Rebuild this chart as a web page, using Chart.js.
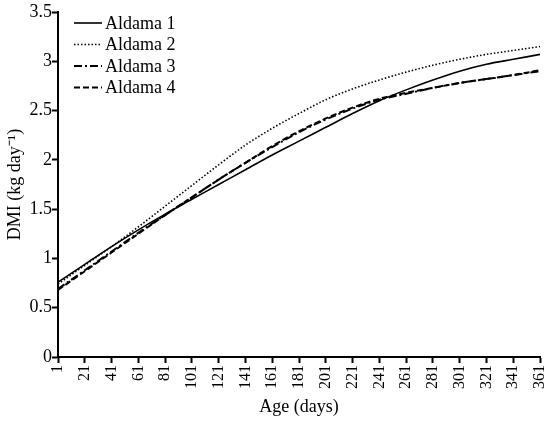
<!DOCTYPE html>
<html>
<head>
<meta charset="utf-8">
<script src="https://cdn.jsdelivr.net/npm/chart.js@4"></script>
<style>
  html, body { margin: 0; padding: 0; background: #fff; }
  #wrap { width: 547px; height: 423px; }
</style>
</head>
<body>
<div id="wrap"><canvas id="dmiChart" width="547" height="423"></canvas></div>
<script>
// age in days (also the x tick labels)
const ageDays = [1, 21, 41, 61, 81, 101, 121, 141, 161, 181, 201, 221, 241, 261, 281, 301, 321, 341, 361];

// DMI (kg/day)
const aldama1 = [0.76, 0.94, 1.12, 1.29, 1.45, 1.60, 1.75, 1.90, 2.05, 2.19, 2.33, 2.47, 2.60, 2.71, 2.81, 2.90, 2.97, 3.02, 3.07];
const aldama2 = [0.74, 0.93, 1.12, 1.32, 1.53, 1.74, 1.95, 2.15, 2.32, 2.47, 2.61, 2.72, 2.81, 2.89, 2.96, 3.02, 3.07, 3.11, 3.15];
const aldama3 = [0.69, 0.88, 1.07, 1.26, 1.44, 1.62, 1.80, 1.97, 2.13, 2.28, 2.41, 2.52, 2.61, 2.67, 2.73, 2.78, 2.82, 2.86, 2.90];
const aldama4 = [0.68, 0.87, 1.06, 1.25, 1.44, 1.62, 1.80, 1.97, 2.14, 2.29, 2.42, 2.53, 2.62, 2.68, 2.73, 2.78, 2.82, 2.86, 2.91];

const yTicks = [0, 0.5, 1, 1.5, 2, 2.5, 3, 3.5];

const serif = "'Liberation Serif', 'Times New Roman', serif";

function toPoints(arr) {
    return arr.map((v, i) => ({ x: ageDays[i], y: v }));
}

function makeSet(label, values, dash, width) {
    return {
        label: label,
        data: toPoints(values),
        borderColor: '#000',
        backgroundColor: '#000',
        borderWidth: width,
        borderDash: dash,
        pointRadius: 0,
        cubicInterpolationMode: 'monotone',
        fill: false
    };
}

// legend drawn inside the plot, top-left, with each line's dash
const innerLegend = {
    id: 'innerLegend',
    afterDraw(chart) {
        const ctx = chart.ctx;
        const area = chart.chartArea;
        ctx.save();
        ctx.font = "18px " + serif;
        ctx.textBaseline = 'middle';
        chart.data.datasets.forEach((ds, i) => {
            let y = area.top + 11 + i * 21.5;
            let x0 = area.left + 16;
            ctx.beginPath();
            ctx.strokeStyle = ds.borderColor;
            ctx.lineWidth = ds.borderWidth;
            ctx.setLineDash(ds.borderDash || []);
            ctx.moveTo(x0, y);
            ctx.lineTo(x0 + 28, y);
            ctx.stroke();
            ctx.setLineDash([]);
            ctx.fillStyle = '#000';
            ctx.fillText(ds.label, x0 + 31, y + 1);
        });
        ctx.restore();
    }
};

new Chart(document.getElementById('dmiChart'), {
    type: 'line',
    data: {
        datasets: [
            makeSet('Aldama 1', aldama1, [], 1.6),
            makeSet('Aldama 2', aldama2, [1.5, 2], 1.6),
            makeSet('Aldama 3', aldama3, [8, 3, 2, 3], 2),
            makeSet('Aldama 4', aldama4, [6, 3], 2)
        ]
    },
    options: {
        responsive: false,
        animation: false,
        layout: { padding: { top: 12, right: 7, left: 0, bottom: 0 } },
        plugins: {
            legend: { display: false },
            tooltip: { enabled: false }
        },
        scales: {
            x: {
                type: 'linear',
                min: 1,
                max: 361,
                afterBuildTicks: (scale) => {
                    scale.ticks = ageDays.map(v => ({ value: v }));
                },
                afterFit: (scale) => {
                    scale.height = 66;
                    scale.paddingLeft = 0;
                    scale.paddingRight = 0;
                },
                grid: {
                    display: true,
                    drawOnChartArea: false,
                    drawTicks: true,
                    tickLength: 6,
                    tickWidth: 2,
                    tickColor: '#000'
                },
                border: { display: true, color: '#000', width: 2 },
                ticks: {
                    color: '#000',
                    font: { family: serif, size: 16 },
                    minRotation: 90,
                    maxRotation: 90,
                    padding: 2,
                    autoSkip: false,
                    callback: (v) => String(v)
                },
                title: {
                    display: true,
                    text: 'Age (days)',
                    color: '#000',
                    font: { family: serif, size: 18 },
                    padding: { top: 0, bottom: 5 }
                }
            },
            y: {
                min: 0,
                max: 3.5,
                afterBuildTicks: (scale) => {
                    scale.ticks = yTicks.map(v => ({ value: v }));
                },
                afterFit: (scale) => {
                    scale.width = 58;
                    scale.paddingTop = 0;
                    scale.paddingBottom = 0;
                },
                grid: {
                    display: true,
                    drawOnChartArea: false,
                    drawTicks: true,
                    tickLength: 6,
                    tickWidth: 2,
                    tickColor: '#000'
                },
                border: { display: true, color: '#000', width: 2 },
                ticks: {
                    color: '#000',
                    font: { family: serif, size: 18 },
                    padding: 0,
                    callback: (v) => String(v)
                },
                title: {
                    display: true,
                    text: 'DMI (kg day\u207B\u00B9)',
                    color: '#000',
                    font: { family: serif, size: 18 },
                    padding: { top: 4, bottom: 0 }
                }
            }
        }
    },
    plugins: [innerLegend]
});
</script>
</body>
</html>
